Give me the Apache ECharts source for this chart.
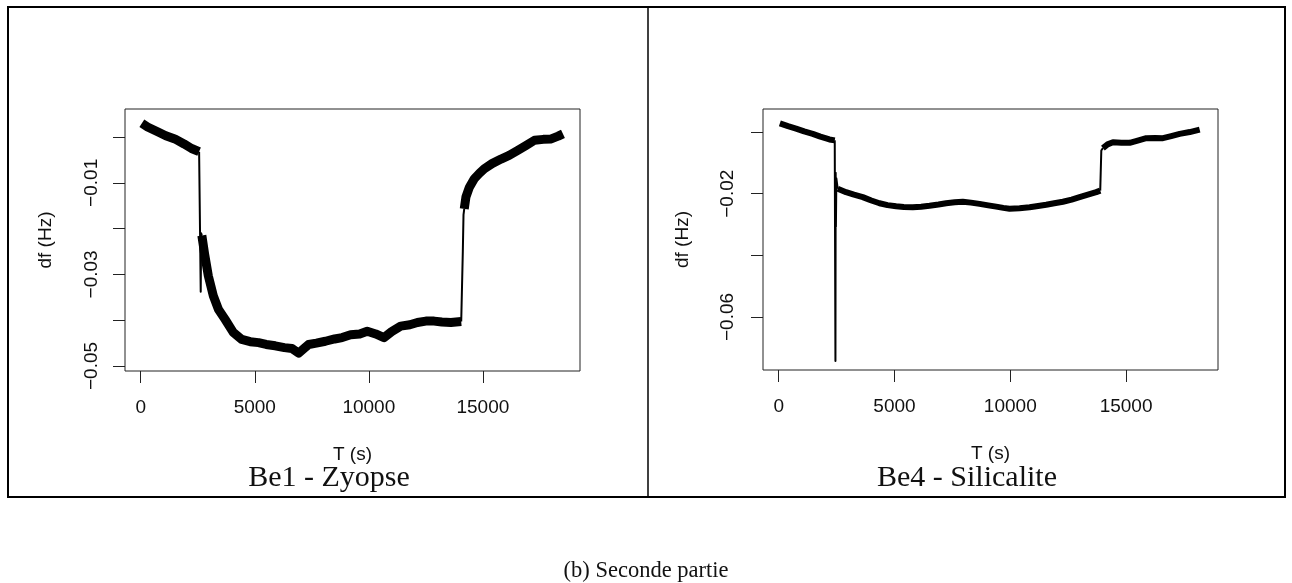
<!DOCTYPE html>
<html>
<head>
<meta charset="utf-8">
<script src="https://cdn.jsdelivr.net/npm/echarts@6/dist/echarts.min.js"></script>
<style>
html, body { margin: 0; padding: 0; background: #fff; }
#chart { width: 1292px; height: 583px; }
</style>
</head>
<body>
<div id="chart"></div>
<script>
// Be1 - Zyopse : noisy band, null marks a break between the three plateaus
const be1Time = [
  50, 300, 763, 1100, 1496, 1900, 2230, 2560, null,
  2680, 2800, 2963, 3183, 3403, 3696, 4063, 4430, 4800, 5163, 5500, 5896, 6300, 6630, 6923, 7150,
  7363, 7700, 8096, 8500, 8830, 9200, 9600, 9930, 10300, 10663, 11000, 11396, 11800, 12130, 12500,
  12863, 13200, 13596, 14050, null,
  14183, 14256, 14403, 14623, 14850, 15063, 15400, 15796, 16150, 16530, 16900, 17263, 17650, 17996,
  18300, 18510
]
const be1Df = [
  0.0030, 0.0022, 0.0011, 0.0003, -0.0004, -0.0015, -0.0025, -0.0032, null,
  -0.0215, -0.0255, -0.0303, -0.0347, -0.0376, -0.0398, -0.0427, -0.0442, -0.0447, -0.0449, -0.0453,
  -0.0456, -0.0460, -0.0462, -0.0472, -0.0462, -0.0453, -0.0450, -0.0446, -0.0441, -0.0438, -0.0432,
  -0.0430, -0.0424, -0.0430, -0.0438, -0.0425, -0.0413, -0.0410, -0.0405, -0.0402, -0.0402, -0.0404,
  -0.0405, -0.0403, null,
  -0.0157, -0.0131, -0.0110, -0.0091, -0.0079, -0.0069, -0.0058, -0.0048, -0.0040, -0.0029, -0.0018,
  -0.0007, -0.0005, -0.0004, 0.0002, 0.0007
]
// thin traces of the two jumps (with the spike after the first drop)
const be1JumpTime = [2560, 2590, 2610, 2630, 2650, 2680, null, 14050, 14100, 14120, 14150, 14183]
const be1JumpDf = [-0.0032, -0.0030, -0.0250, -0.0338, -0.0210, -0.0215, null, -0.0403, -0.0405, -0.0250, -0.0170, -0.0157]

// Be4 - Silicalite
const be4Time = [
  50, 400, 749, 1100, 1469, 1800, 2190, 2420, null,
  2549, 2909, 3250, 3630, 4000, 4351, 4700, 5069, 5400, 5790, 6150, 6512, 6900, 7229, 7600, 7951,
  8300, 8672, 9050, 9390, 9700, 9969, 10400, 10833, 11200, 11550, 11900, 12272, 12650, 12993, 13350,
  13711, 13884, null,
  14000, 14200, 14432, 14800, 15154, 15500, 15871, 16250, 16593, 16950, 17314, 17750, 18178
]
const be4Df = [
  0.0028, 0.0019, 0.0011, 0.0002, -0.0006, -0.0015, -0.0024, -0.0027, null,
  -0.0184, -0.0195, -0.0203, -0.0211, -0.0222, -0.0231, -0.0237, -0.0241, -0.0243, -0.0244, -0.0242,
  -0.0239, -0.0235, -0.0231, -0.0228, -0.0226, -0.0229, -0.0233, -0.0238, -0.0242, -0.0246, -0.0249,
  -0.0247, -0.0244, -0.0240, -0.0236, -0.0231, -0.0226, -0.0219, -0.0211, -0.0203, -0.0195, -0.0190, null,
  -0.0052, -0.0040, -0.0033, -0.0035, -0.0035, -0.0028, -0.0020, -0.0019, -0.0020, -0.0013, -0.0006,
  0.0000, 0.0008
]
const be4JumpTime = [2420, 2440, 2450, 2460, 2470, 2490, 2549, null, 13884, 13920, 13930, 14000]
const be4JumpDf = [-0.0027, -0.0030, -0.0743, -0.0132, -0.0307, -0.0150, -0.0184, null, -0.0190, -0.0190, -0.0060, -0.0052]

const xTicks = [0, 5000, 10000, 15000]
const be1YTicks = [0, -0.01, -0.02, -0.03, -0.04, -0.05]
const be1YLabels = [-0.01, -0.03, -0.05]
const be4YTicks = [0, -0.02, -0.04, -0.06]
const be4YLabels = [-0.02, -0.06]

const zip = (t, v) => t.map((x, i) => [x, v[i]])

const sans = 'Liberation Sans'
const serif = 'Liberation Serif'
const fmt = v => String(v).replace('-', '\u2212')

const xAxisOf = (gridIndex, min, max) => ({
  gridIndex,
  type: 'value',
  min,
  max,
  name: 'T (s)',
  nameLocation: 'middle',
  nameGap: 74,
  nameTextStyle: { fontFamily: sans, fontSize: 19, color: '#111' },
  axisLine: { show: false, onZero: false },
  splitLine: { show: false },
  axisTick: { show: true, length: 12, customValues: xTicks, lineStyle: { color: '#222' } },
  axisLabel: { customValues: xTicks, margin: 27, fontFamily: sans, fontSize: 19, color: '#111', formatter: fmt }
})

const yAxisOf = (gridIndex, min, max, ticks, labels, margin, gap) => ({
  gridIndex,
  type: 'value',
  min,
  max,
  name: 'df (Hz)',
  nameLocation: 'middle',
  nameRotate: 90,
  nameGap: gap,
  nameTextStyle: { fontFamily: sans, fontSize: 19, color: '#111' },
  axisLine: { show: false, onZero: false },
  splitLine: { show: false },
  axisTick: { show: true, length: 12, customValues: ticks, lineStyle: { color: '#222' } },
  axisLabel: { customValues: labels, rotate: 90, margin, fontFamily: sans, fontSize: 19, color: '#111', formatter: fmt }
})

const lineOf = (idx, data, width) => ({
  type: 'line',
  xAxisIndex: idx,
  yAxisIndex: idx,
  data,
  symbol: 'none',
  showSymbol: false,
  connectNulls: false,
  silent: true,
  lineStyle: { color: '#000', width, join: 'round' }
})

const chart = echarts.init(document.getElementById('chart'))

const option = {
  animation: false,
  backgroundColor: '#fff',
  grid: [
    { left: 125, top: 109, width: 455, height: 262, show: true, borderColor: '#222', borderWidth: 1, outerBoundsMode: 'none' },
    { left: 763, top: 109, width: 455, height: 261, show: true, borderColor: '#222', borderWidth: 1, outerBoundsMode: 'none' }
  ],
  xAxis: [
    xAxisOf(0, -689, 19257),
    xAxisOf(1, -678, 18969)
  ],
  yAxis: [
    yAxisOf(0, -0.0511, 0.00613, be1YTicks, be1YLabels, 24, 70),
    yAxisOf(1, -0.0772, 0.00748, be4YTicks, be4YLabels, 26, 71)
  ],
  series: [
    lineOf(0, zip(be1Time, be1Df), 9),
    lineOf(0, zip(be1JumpTime, be1JumpDf), 2),
    lineOf(1, zip(be4Time, be4Df), 6),
    lineOf(1, zip(be4JumpTime, be4JumpDf), 2)
  ],
  graphic: [
    { type: 'rect', silent: true, shape: { x: 8, y: 7, width: 1277, height: 490 }, style: { fill: 'none', stroke: '#000', lineWidth: 2 } },
    { type: 'line', silent: true, shape: { x1: 648, y1: 7, x2: 648, y2: 497 }, style: { stroke: '#000', lineWidth: 1.5 } },
    { type: 'text', silent: true, style: { text: 'Be1 - Zyopse', x: 329, y: 478, align: 'center', verticalAlign: 'middle', fontFamily: serif, fontSize: 30, fill: '#111' } },
    { type: 'text', silent: true, style: { text: 'Be4 - Silicalite', x: 967, y: 478, align: 'center', verticalAlign: 'middle', fontFamily: serif, fontSize: 30, fill: '#111' } },
    { type: 'text', silent: true, style: { text: '(b) Seconde partie', x: 646, y: 571, align: 'center', verticalAlign: 'middle', fontFamily: serif, fontSize: 22.5, fill: '#111' } }
  ]
}

chart.setOption(option)
</script>
</body>
</html>
